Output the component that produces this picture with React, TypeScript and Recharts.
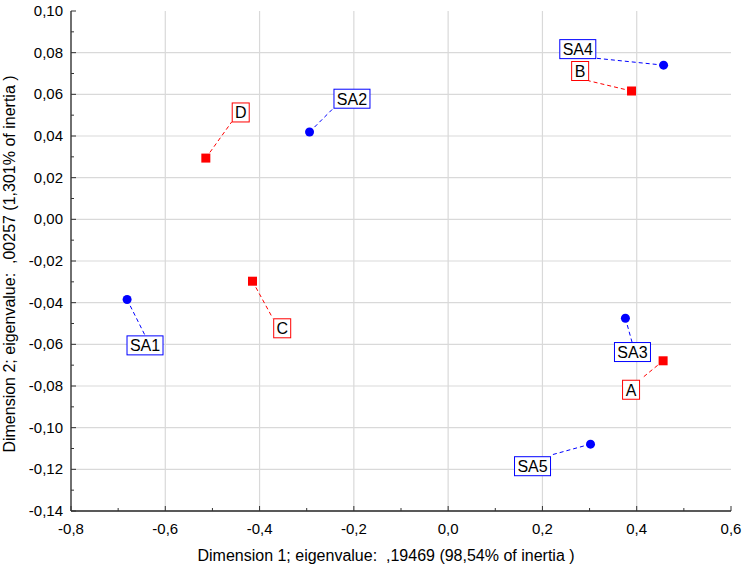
import React from "react";
import { ReferenceLine, Scatter, ScatterChart, XAxis, YAxis } from "recharts";

// column points (SA) and row points (letters)
const saNames = ["SA1", "SA2", "SA3", "SA4", "SA5"];
const saX = [-0.681, -0.294, 0.376, 0.457, 0.302];
const saY = [-0.0385, 0.0419, -0.0475, 0.074, -0.1079];

const rowNames = ["A", "B", "C", "D"];
const rowX = [0.456, 0.389, -0.415, -0.514];
const rowY = [-0.0679, 0.0616, -0.0297, 0.0294];

// label box centres
const saLabelX = [-0.643, -0.204, 0.391, 0.275, 0.179];
const saLabelY = [-0.0605, 0.0579, -0.0637, 0.0817, -0.1185];
const rowLabelX = [0.388, 0.28, -0.352, -0.44];
const rowLabelY = [-0.0818, 0.0712, -0.0523, 0.0513];

// where the dashed leader meets the label box
const saLeadX = [-0.643, -0.244, 0.39, 0.315, 0.222];
const saLeadY = [-0.0557, 0.0532, -0.0589, 0.0773, -0.1129];
const rowLeadX = [0.413, 0.298, -0.372, -0.459];
const rowLeadY = [-0.0759, 0.0665, -0.0475, 0.0468];

const xTicks = [-0.8, -0.7, -0.6, -0.5, -0.4, -0.3, -0.2, -0.1, 0, 0.1, 0.2, 0.3, 0.4, 0.5, 0.6];
const yTicks = [
  -0.14, -0.13, -0.12, -0.11, -0.1, -0.09, -0.08, -0.07, -0.06, -0.05, -0.04, -0.03, -0.02, -0.01,
  0, 0.01, 0.02, 0.03, 0.04, 0.05, 0.06, 0.07, 0.08, 0.09, 0.1,
];
const xGrid = [-0.6, -0.4, -0.2, 0, 0.2, 0.4];
const yGrid = [-0.12, -0.1, -0.08, -0.06, -0.04, -0.02, 0, 0.02, 0.04, 0.06, 0.08];

const xTitle = "Dimension 1; eigenvalue:  ,19469 (98,54% of inertia )";
const yTitle = "Dimension 2; eigenvalue:  ,00257 (1,301% of inertia )";

const BLUE = "#0000ff";
const RED = "#ff0000";
const FONT = "'Liberation Sans', Arial, sans-serif";

const saPoints = saNames.map((n, i) => ({ name: n, x: saX[i], y: saY[i] }));
const rowPoints = rowNames.map((n, i) => ({ name: n, x: rowX[i], y: rowY[i] }));
const labels = [
  ...saNames.map((n, i) => ({ name: n, x: saLabelX[i], y: saLabelY[i], color: BLUE })),
  ...rowNames.map((n, i) => ({ name: n, x: rowLabelX[i], y: rowLabelY[i], color: RED })),
];
const leaders = [
  ...saNames.map((n, i) => ({ key: n, color: BLUE, data: [{ x: saX[i], y: saY[i] }, { x: saLeadX[i], y: saLeadY[i] }] })),
  ...rowNames.map((n, i) => ({ key: n, color: RED, data: [{ x: rowX[i], y: rowY[i] }, { x: rowLeadX[i], y: rowLeadY[i] }] })),
];

const fmt = (v: number, d: number) => v.toFixed(d).replace(".", ",").replace("-0,00", "0,00");
const isMajorX = (v: number) => Math.round(v * 10) % 2 === 0;
const isMajorY = (v: number) => Math.round(v * 100) % 2 === 0;

function BottomTick(props: any) {
  const { x, y, payload } = props;
  const major = isMajorX(payload.value);
  return (
    <g>
      <line x1={x} x2={x} y1={y} y2={y - (major ? 5 : 3)} stroke="#333" />
      {major && (
        <text x={x} y={y + 23} textAnchor="middle" fontSize={15} fontFamily={FONT} fill="#000">
          {fmt(payload.value, 1)}
        </text>
      )}
    </g>
  );
}

function TopTick(props: any) {
  const { x, y, payload } = props;
  const major = isMajorX(payload.value);
  return <line x1={x} x2={x} y1={y} y2={y + (major ? 5 : 3)} stroke="#333" />;
}

function LeftTick(props: any) {
  const { x, y, payload } = props;
  const major = isMajorY(payload.value);
  return (
    <g>
      <line x1={x} x2={x + (major ? 5 : 3)} y1={y} y2={y} stroke="#333" />
      {major && (
        <text x={x - 8} y={y + 5} textAnchor="end" fontSize={15} fontFamily={FONT} fill="#000">
          {fmt(payload.value, 2)}
        </text>
      )}
    </g>
  );
}

function RightTick(props: any) {
  const { x, y, payload } = props;
  const major = isMajorY(payload.value);
  return <line x1={x} x2={x - (major ? 5 : 3)} y1={y} y2={y} stroke="#333" />;
}

function LabelBox(props: any) {
  const { cx, cy, payload } = props;
  const w = payload.name.length > 1 ? 36 : 17;
  const h = 19;
  return (
    <g>
      <rect x={cx - w / 2} y={cy - h / 2} width={w} height={h} fill="#fff" stroke={payload.color} strokeWidth={1} />
      <text x={cx} y={cy + 6} textAnchor="middle" fontSize={16} fontFamily={FONT} fill="#000">
        {payload.name}
      </text>
    </g>
  );
}

const Dot = (props: any) => <circle cx={props.cx} cy={props.cy} r={4.5} fill={BLUE} />;
const Square = (props: any) => <rect x={props.cx - 4.5} y={props.cy - 4.5} width={9} height={9} fill={RED} />;
const Nothing = () => <g />;

export default function App() {
  return (
    <div style={{ position: "absolute", left: 0, top: 0, background: "#fff" }}>
      <ScatterChart width={747} height={567} margin={{ top: 11, right: 16, bottom: 0, left: 0 }}>
        <XAxis
          type="number"
          dataKey="x"
          domain={[-0.8, 0.6]}
          ticks={xTicks}
          interval={0}
          allowDataOverflow
          height={56}
          tickSize={0}
          tickMargin={0}
          tickLine={false}
          axisLine={{ stroke: "#222", strokeWidth: 1.3 }}
          tick={<BottomTick />}
          label={{
            content: () => (
              <text
                x={386}
                y={561}
                textAnchor="middle"
                fontSize={16}
                fontFamily={FONT}
                fill="#000"
                style={{ whiteSpace: "pre" }}
              >
                {xTitle}
              </text>
            ),
          }}
        />
        <XAxis
          xAxisId="top"
          orientation="top"
          type="number"
          dataKey="x"
          domain={[-0.8, 0.6]}
          ticks={xTicks}
          interval={0}
          allowDataOverflow
          height={0}
          tickSize={0}
          tickMargin={0}
          tickLine={false}
          axisLine={{ stroke: "#555", strokeWidth: 2 }}
          tick={<TopTick />}
        />
        <YAxis
          type="number"
          dataKey="y"
          domain={[-0.14, 0.1]}
          ticks={yTicks}
          interval={0}
          allowDataOverflow
          width={71}
          tickSize={0}
          tickMargin={0}
          tickLine={false}
          axisLine={{ stroke: "#222", strokeWidth: 1.3 }}
          tick={<LeftTick />}
          label={{
            content: () => (
              <text
                x={15}
                y={264}
                textAnchor="middle"
                fontSize={16}
                fontFamily={FONT}
                fill="#000"
                style={{ whiteSpace: "pre" }}
                transform="rotate(-90 15 264)"
              >
                {yTitle}
              </text>
            ),
          }}
        />
        <YAxis
          yAxisId="right"
          orientation="right"
          type="number"
          dataKey="y"
          domain={[-0.14, 0.1]}
          ticks={yTicks}
          interval={0}
          allowDataOverflow
          width={0}
          tickSize={0}
          tickMargin={0}
          tickLine={false}
          axisLine={{ stroke: "#555", strokeWidth: 2 }}
          tick={<RightTick />}
        />
        {xGrid.map((v) => (
          <ReferenceLine key={"gx" + v} x={v} stroke="#d9d9d9" strokeWidth={1.2} />
        ))}
        {yGrid.map((v) => (
          <ReferenceLine key={"gy" + v} y={v} stroke="#d9d9d9" strokeWidth={1.2} />
        ))}
        {leaders.map((l) => (
          <Scatter
            key={"lead" + l.key}
            data={l.data}
            line={{ stroke: l.color, strokeWidth: 1, strokeDasharray: "4 3" }}
            shape={<Nothing />}
            isAnimationActive={false}
          />
        ))}
        <Scatter data={labels} shape={<LabelBox />} isAnimationActive={false} />
        <Scatter data={rowPoints} shape={<Square />} isAnimationActive={false} />
        <Scatter data={saPoints} shape={<Dot />} isAnimationActive={false} />
      </ScatterChart>
    </div>
  );
}
